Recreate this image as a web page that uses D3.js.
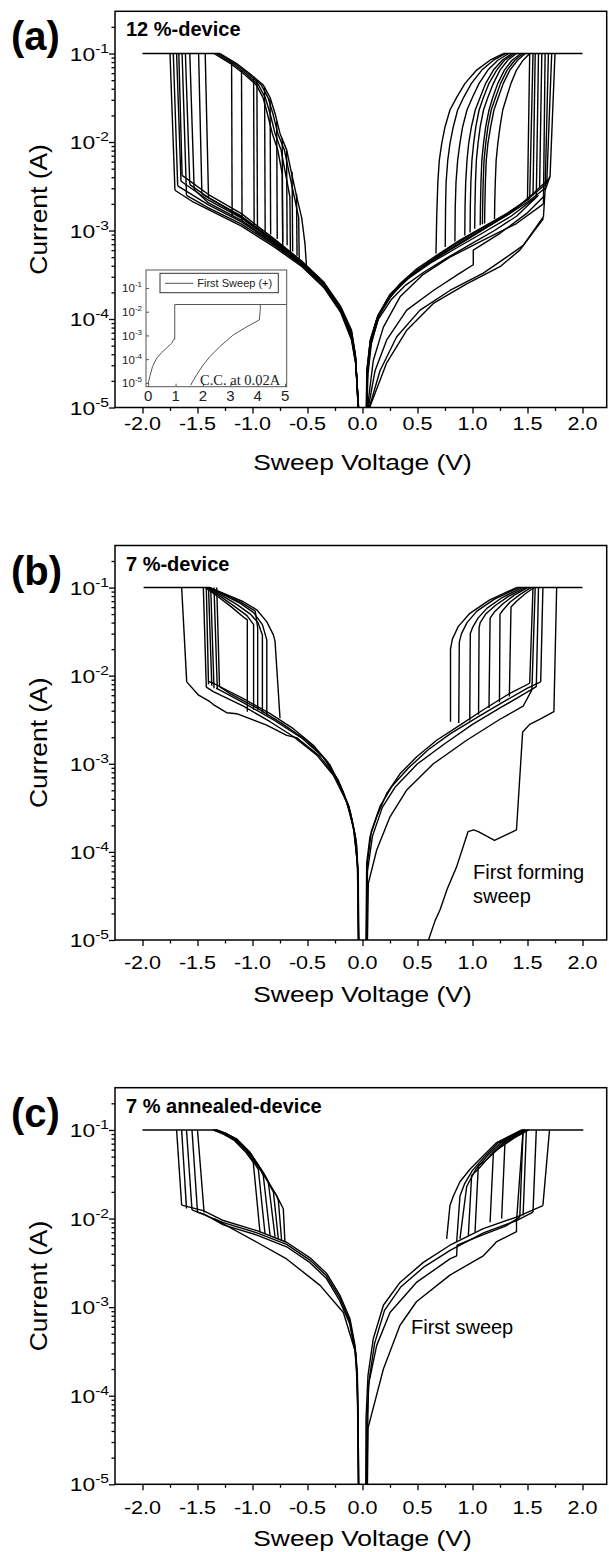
<!DOCTYPE html>
<html><head><meta charset="utf-8">
<script src="https://cdn.jsdelivr.net/npm/d3@7"></script>
<style>body{margin:0;background:#fff}svg{display:block}</style>
</head><body><svg id="c" width="609" height="1552"></svg>
<script>
// ---------------- tick values ----------------
const X_TICKS = [-2.0,-1.5,-1.0,-0.5,0.0,0.5,1.0,1.5,2.0];
const X_MINOR = [-1.75,-1.25,-0.75,-0.25,0.25,0.75,1.25,1.75];
const Y_TICKS = [1e-5,1e-4,1e-3,1e-2,1e-1];
const Y_TICK_EXP = ["-5","-4","-3","-2","-1"];
const INSET_X_TICKS = [0,1,2,3,4,5];
const INSET_Y_TICKS = [1e-5,1e-4,1e-3,1e-2,1e-1];

// ---------------- panel (a): 12 %-device ----------------
const aCompliance = [[[-2.0,0.1],[-1.295,0.1]],[[1.28,0.1],[2.0,0.1]]];
const aNegLower = [
 [[-0.035,1.0e-5],[-0.06,3.0e-5],[-0.1,5.8e-5],[-0.2,1.2e-4],[-0.35,2.25e-4],[-0.55,3.9e-4],[-0.8,6.5e-4],[-1.1,1.12e-3],[-1.4,1.72e-3],[-1.54,2.1e-3],[-1.705,2.85e-3]],
 [[-0.037,1.0e-5],[-0.062,3.3e-5],[-0.1,6.3e-5],[-0.2,1.27e-4],[-0.35,2.4e-4],[-0.55,4.1e-4],[-0.8,7.0e-4],[-1.1,1.25e-3],[-1.4,1.95e-3],[-1.68,3.2e-3]],
 [[-0.038,1.0e-5],[-0.063,3.6e-5],[-0.1,6.8e-5],[-0.2,1.32e-4],[-0.35,2.5e-4],[-0.55,4.3e-4],[-0.8,7.4e-4],[-1.1,1.38e-3],[-1.4,2.2e-3],[-1.65,3.6e-3]],
 [[-0.04,1.0e-5],[-0.065,4.0e-5],[-0.1,7.5e-5],[-0.2,1.4e-4],[-0.35,2.6e-4],[-0.55,4.5e-4],[-0.8,8.0e-4],[-1.1,1.55e-3],[-1.4,2.55e-3],[-1.64,4.2e-3]],
 [[-0.036,1.0e-5],[-0.061,3.2e-5],[-0.1,6.0e-5],[-0.2,1.23e-4],[-0.35,2.3e-4],[-0.55,4.0e-4],[-0.8,6.8e-4],[-1.1,1.18e-3],[-1.4,1.8e-3],[-1.6,2.5e-3]],
 [[-0.039,1.0e-5],[-0.064,3.8e-5],[-0.1,7.1e-5],[-0.2,1.36e-4],[-0.35,2.55e-4],[-0.55,4.4e-4],[-0.8,7.7e-4],[-1.1,1.45e-3],[-1.4,2.35e-3],[-1.57,3.3e-3]],
 [[-0.037,1e-5],[-0.062,3.5e-5],[-0.1,6.6e-5],[-0.2,1.3e-4],[-0.35,2.45e-4],[-0.55,4.2e-4],[-0.8,7.2e-4],[-1.1,1.3e-3],[-1.4,2.05e-3],[-1.53,2.9e-3]],
 [[-0.038,1e-5],[-0.063,3.7e-5],[-0.1,7.0e-5],[-0.2,1.35e-4],[-0.35,2.52e-4],[-0.55,4.35e-4],[-0.8,7.6e-4],[-1.1,1.42e-3],[-1.46,2.6e-3]]
];
const aNegSet = [
 [[-1.705,2.85e-3],[-1.75,0.1]],[[-1.68,3.2e-3],[-1.72,0.1]],[[-1.65,3.6e-3],[-1.69,0.1]],
 [[-1.64,4.2e-3],[-1.67,0.1]],[[-1.60,2.5e-3],[-1.64,0.1]],[[-1.57,3.3e-3],[-1.61,0.1]],
 [[-1.53,2.9e-3],[-1.57,0.1]],[[-1.46,2.6e-3],[-1.49,0.1]],[[-1.40,2.4e-3],[-1.43,0.1]]
];
const aNegUpper = [
 [[-1.295,0.1],[-1.144,0.077],[-1.023,0.059],[-0.902,0.044],[-0.841,0.032],[-0.795,0.021],[-0.75,0.0125],[-0.689,0.0081],[-0.644,0.0044],[-0.598,0.0024],[-0.553,0.0014],[-0.523,7.1e-4],[-0.507,3.6e-4]],
 [[-1.31,0.1],[-1.16,0.077],[-1.04,0.059],[-0.92,0.044],[-0.86,0.032],[-0.815,0.021],[-0.77,0.0125],[-0.71,0.0081],[-0.665,0.0044],[-0.62,0.0024],[-0.58,0.0014],[-0.575,4.3e-4]],
 [[-1.33,0.1],[-1.18,0.077],[-1.06,0.059],[-0.945,0.044],[-0.885,0.032],[-0.84,0.021],[-0.795,0.0125],[-0.74,0.0081],[-0.70,0.0044],[-0.66,0.0024],[-0.655,5.0e-4]],
 [[-1.35,0.1],[-1.20,0.077],[-1.08,0.059],[-0.965,0.044],[-0.905,0.032],[-0.865,0.021],[-0.82,0.0125],[-0.77,0.0081],[-0.73,0.0044],[-0.725,5.5e-4]]
];
const aNegReset = [
 [[-1.19,0.078],[-1.185,1.45e-3]],[[-1.10,0.065],[-1.095,1.3e-3]],[[-0.99,0.055],[-0.985,1.15e-3]],
 [[-0.96,0.05],[-0.955,1.12e-3]],[[-0.89,0.042],[-0.885,9.8e-4]],[[-0.84,0.031],[-0.835,9.0e-4]],
 [[-0.78,0.017],[-0.775,8.0e-4]],[[-0.73,0.011],[-0.725,7.4e-4]],[[-0.69,0.008],[-0.685,6.8e-4]],
 [[-0.64,0.0046],[-0.635,5.8e-4]],[[-0.60,0.0026],[-0.595,5.2e-4]]
];
const aPosLower = [
 [[0.035,1e-5],[0.038,2.2e-5],[0.068,5.3e-5],[0.129,9.7e-5],[0.22,1.63e-4],[0.341,2.5e-4],[0.493,3.7e-4],[0.674,5.25e-4],[0.886,7.8e-4],[1.098,1.1e-3],[1.31,1.55e-3],[1.49,2.2e-3],[1.675,3.4e-3],[1.705,4.1e-3]],
 [[0.05,1e-5],[0.053,1.2e-5],[0.098,3.4e-5],[0.19,8.1e-5],[0.341,1.78e-4],[0.553,3.2e-4],[0.795,5.0e-4],[1.098,7.8e-4],[1.40,1.2e-3],[1.645,2.0e-3]],
 [[0.04,1e-5],[0.05,2.4e-5],[0.08,5.2e-5],[0.15,1.1e-4],[0.27,1.9e-4],[0.42,2.9e-4],[0.62,4.3e-4],[0.85,6.3e-4],[1.1,9.5e-4],[1.35,1.45e-3],[1.58,2.4e-3]],
 [[0.038,1e-5],[0.045,2.6e-5],[0.075,5.6e-5],[0.14,1.1e-4],[0.25,1.9e-4],[0.4,2.9e-4],[0.6,4.4e-4],[0.8,6.5e-4],[1.05,1.0e-3],[1.3,1.5e-3],[1.52,2.3e-3]],
 [[0.036,1e-5],[0.04,2.6e-5],[0.07,5.6e-5],[0.13,1.0e-4],[0.23,1.65e-4],[0.35,2.45e-4],[0.5,3.6e-4],[0.7,5.2e-4],[0.9,7.4e-4],[1.1,1.05e-3],[1.3,1.45e-3],[1.5,2.1e-3],[1.66,3.0e-3]],
 [[0.037,1e-5],[0.042,2.8e-5],[0.072,5.9e-5],[0.135,1.05e-4],[0.24,1.7e-4],[0.36,2.5e-4],[0.52,3.65e-4],[0.72,5.3e-4],[0.95,7.9e-4],[1.15,1.12e-3],[1.35,1.6e-3],[1.55,2.6e-3],[1.69,3.8e-3]],
 [[0.039,1e-5],[0.046,2.7e-5],[0.078,5.4e-5],[0.145,1.0e-4],[0.26,1.65e-4],[0.39,2.4e-4],[0.56,3.4e-4],[0.78,5.0e-4],[1.0,7.2e-4],[1.2,1.0e-3],[1.4,1.45e-3],[1.6,2.5e-3]],
 [[0.053,1e-5],[0.114,2.6e-5],[0.22,5.8e-5],[0.402,1.26e-4],[0.644,2.1e-4],[0.886,3.3e-4],[1.007,4.1e-4],[1.007,6.0e-4],[1.25,9.3e-4],[1.49,1.55e-3],[1.645,2.4e-3]],
 [[0.062,1e-5],[0.159,2.6e-5],[0.311,6.3e-5],[0.523,1.26e-4],[0.795,2.1e-4],[1.098,3.3e-4],[1.31,5.0e-4],[1.462,6.8e-4],[1.645,1.43e-3],[1.66,2.85e-3],[1.705,4.1e-3]],
 [[0.065,1e-5],[0.22,3.2e-5],[0.40,7.4e-5],[0.644,1.5e-4],[0.947,2.5e-4],[1.25,3.9e-4],[1.43,6.0e-4],[1.52,8.5e-4],[1.645,1.36e-3]]
];
const aPosSet = [
 [[1.50,2.3e-3],[1.52,0.1]],[[1.52,2.3e-3],[1.55,0.1]],[[1.55,2.5e-3],[1.57,0.1]],
 [[1.58,2.4e-3],[1.60,0.1]],[[1.61,3.0e-3],[1.63,0.1]],[[1.645,2.0e-3],[1.66,0.1]],
 [[1.66,2.85e-3],[1.69,0.1]],[[1.675,3.4e-3],[1.72,0.1]],[[1.705,4.1e-3],[1.75,0.1]]
];
const aPosUpper = [
 [[1.28,0.1],[1.159,0.084],[1.038,0.065],[0.932,0.046],[0.856,0.032],[0.795,0.023],[0.75,0.0148],[0.72,9.6e-3],[0.698,6.2e-3],[0.685,3.5e-3],[0.675,1.5e-3],[0.668,5.5e-4]],
 [[1.30,0.1],[1.19,0.084],[1.085,0.065],[0.99,0.046],[0.92,0.032],[0.865,0.023],[0.825,0.0148],[0.795,9.6e-3],[0.775,6.2e-3],[0.76,3.5e-3],[0.755,1.8e-3],[0.752,6.5e-4]],
 [[1.33,0.1],[1.23,0.084],[1.14,0.065],[1.06,0.046],[1.0,0.032],[0.95,0.023],[0.91,0.0148],[0.885,9.6e-3],[0.865,6.2e-3],[0.85,3.5e-3],[0.843,1.8e-3],[0.84,7.5e-4]],
 [[1.36,0.1],[1.27,0.084],[1.19,0.065],[1.12,0.046],[1.07,0.032],[1.025,0.023],[0.99,0.0148],[0.965,9.6e-3],[0.95,6.2e-3],[0.938,3.5e-3],[0.932,1.8e-3],[0.93,8.8e-4]],
 [[1.38,0.1],[1.29,0.084],[1.22,0.065],[1.15,0.046],[1.10,0.032],[1.06,0.023],[1.03,0.0148],[1.01,9.6e-3],[0.995,6.2e-3],[0.985,3.5e-3],[0.98,1.8e-3],[0.978,9.5e-4]],
 [[1.40,0.1],[1.32,0.084],[1.25,0.065],[1.19,0.046],[1.14,0.032],[1.10,0.023],[1.07,0.0148],[1.05,9.6e-3],[1.035,6.2e-3],[1.027,3.5e-3],[1.022,1.8e-3],[1.02,1.05e-3]],
 [[1.44,0.1],[1.36,0.084],[1.29,0.065],[1.23,0.046],[1.185,0.032],[1.15,0.023],[1.12,0.0148],[1.10,9.6e-3],[1.085,6.2e-3],[1.077,3.5e-3],[1.072,1.8e-3],[1.07,1.15e-3]],
 [[1.46,0.1],[1.385,0.084],[1.315,0.065],[1.255,0.046],[1.21,0.032],[1.17,0.023],[1.14,0.0148],[1.12,9.6e-3],[1.105,6.2e-3],[1.097,3.5e-3],[1.092,1.8e-3],[1.09,1.18e-3]],
 [[1.48,0.1],[1.41,0.084],[1.34,0.065],[1.28,0.046],[1.235,0.032],[1.195,0.023],[1.165,0.0148],[1.14,9.6e-3],[1.125,6.2e-3],[1.117,3.5e-3],[1.112,1.8e-3],[1.11,1.2e-3]],
 [[1.52,0.1],[1.46,0.084],[1.40,0.065],[1.35,0.046],[1.31,0.032],[1.275,0.023],[1.25,0.0148],[1.23,9.6e-3],[1.215,6.2e-3],[1.207,3.5e-3],[1.202,2.0e-3],[1.20,1.35e-3]]
];
// inset of (a): first sweep (+), C.C. at 0.02 A
const insetSweep1 = [[0,9e-6],[0.06,1.9e-5],[0.16,4.9e-5],[0.31,1.1e-4],[0.49,1.9e-4],[0.67,2.9e-4],[0.86,4.7e-4],[0.94,6.9e-4],[0.97,6.9e-4],[0.97,0.02],[5.1,0.02]];
const insetSweep2 = [[1.55,8e-6],[1.77,2.2e-5],[2.01,5.7e-5],[2.26,1.3e-4],[2.62,3.4e-4],[3.11,1.05e-3],[3.60,2.3e-3],[4.06,4.5e-3],[4.09,1.0e-2],[4.1,0.02]];

// ---------------- panel (b): 7 %-device ----------------
const bCompliance = [[[-1.99,0.1],[-1.386,0.1]],[[1.40,0.1],[2.0,0.1]]];
const bNegLower = [
 [[-0.035,1e-5],[-0.038,5e-5],[-0.053,1.2e-4],[-0.098,2.4e-4],[-0.175,4.8e-4],[-0.295,9.7e-4],[-0.447,1.62e-3],[-0.629,2.5e-3],[-0.84,3.7e-3],[-1.083,5.5e-3],[-1.356,8.2e-3],[-1.40,8.6e-3]],
 [[-0.036,1e-5],[-0.047,7.8e-5],[-0.083,1.87e-4],[-0.144,3.7e-4],[-0.265,7.4e-4],[-0.417,1.26e-3],[-0.629,2.04e-3],[-0.84,3.0e-3],[-1.083,4.5e-3],[-1.356,6.6e-3],[-1.42,7.4e-3]],
 [[-0.036,1e-5],[-0.042,6e-5],[-0.07,1.6e-4],[-0.12,3.2e-4],[-0.22,6.5e-4],[-0.36,1.2e-3],[-0.55,1.95e-3],[-0.8,3.1e-3],[-1.08,4.9e-3],[-1.33,7.2e-3]],
 [[-0.037,1e-5],[-0.044,6.8e-5],[-0.075,1.7e-4],[-0.13,3.4e-4],[-0.24,7.0e-4],[-0.39,1.22e-3],[-0.6,1.98e-3],[-0.689,2.1e-3],[-0.871,2.75e-3],[-1.144,3.7e-3],[-1.235,3.8e-3],[-1.356,4.7e-3],[-1.39,5.1e-3],[-1.49,6.0e-3],[-1.598,8.5e-3]],
 [[-0.035,1e-5],[-0.04,5.5e-5],[-0.06,1.4e-4],[-0.11,2.8e-4],[-0.2,5.6e-4],[-0.33,1.1e-3],[-0.5,1.8e-3],[-0.72,2.8e-3],[-0.96,4.3e-3],[-1.2,6.2e-3],[-1.3,7.5e-3]]
];
const bNegSet = [
 [[-1.598,8.5e-3],[-1.644,0.1]],[[-1.42,7.4e-3],[-1.447,0.1]],[[-1.40,8.0e-3],[-1.42,0.1]],
 [[-1.37,7.7e-3],[-1.40,0.1]],[[-1.35,7.2e-3],[-1.38,0.1]],[[-1.32,7.0e-3],[-1.35,0.1]],[[-1.30,7.5e-3],[-1.325,0.1]]
];
const bNegUpper = [
 [[-1.386,0.1],[-1.235,0.083],[-1.083,0.069],[-0.962,0.056],[-0.871,0.041],[-0.81,0.029],[-0.795,0.0245],[-0.75,3.3e-3]],
 [[-1.40,0.1],[-1.25,0.081],[-1.11,0.066],[-0.99,0.052],[-0.91,0.038],[-0.87,0.0255],[-0.87,3.5e-3]],
 [[-1.41,0.1],[-1.27,0.08],[-1.14,0.064],[-1.02,0.05],[-0.95,0.04],[-0.91,0.029],[-0.91,3.8e-3]],
 [[-1.42,0.1],[-1.29,0.079],[-1.17,0.062],[-1.05,0.048],[-0.99,0.038],[-0.99,4.1e-3]],
 [[-1.43,0.1],[-1.31,0.078],[-1.19,0.06],[-1.08,0.046],[-1.047,0.043],[-1.047,3.9e-3]],
 [[-1.39,0.1],[-1.24,0.082],[-1.095,0.067],[-0.975,0.054],[-0.953,0.035],[-0.953,4.1e-3]]
];
const bPosLower = [
 [[0.032,1e-5],[0.038,7.4e-5],[0.068,1.48e-4],[0.129,2.5e-4],[0.22,4.6e-4],[0.341,7.7e-4],[0.493,1.2e-3],[0.674,1.85e-3],[0.886,2.75e-3],[1.098,4.1e-3],[1.34,6.3e-3],[1.52,8.2e-3]],
 [[0.045,1e-5],[0.053,4.4e-5],[0.129,1.05e-4],[0.25,2.5e-4],[0.40,5.0e-4],[0.644,1.0e-3],[0.947,1.85e-3],[1.25,3.2e-3],[1.46,4.5e-3],[1.54,6.9e-3]],
 [[0.038,1e-5],[0.045,6e-5],[0.09,1.5e-4],[0.18,3.2e-4],[0.3,5.5e-4],[0.5,1.0e-3],[0.75,1.7e-3],[1.0,2.8e-3],[1.25,4.3e-3],[1.45,6.0e-3],[1.58,7.5e-3]],
 [[0.036,1e-5],[0.042,7e-5],[0.08,1.7e-4],[0.16,3.3e-4],[0.27,5.6e-4],[0.42,9e-4],[0.6,1.45e-3],[0.8,2.2e-3],[1.05,3.4e-3],[1.3,5.2e-3],[1.5,7.2e-3],[1.62,8.5e-3]]
];
const bForming = [[0.60,1e-5],[0.66,1.66e-5],[0.705,2.2e-5],[0.77,3.8e-5],[0.856,6.8e-5],[0.96,1.7e-4],[1.01,1.78e-4],[1.053,1.7e-4],[1.20,1.35e-4],[1.40,1.78e-4],[1.456,2.3e-3],[1.52,2.8e-3],[1.61,3.2e-3],[1.74,3.9e-3],[1.765,0.1]];
const bPosSet = [[[1.52,8.2e-3],[1.55,0.1]],[[1.54,6.9e-3],[1.57,0.1]],[[1.58,7.5e-3],[1.60,0.1]],[[1.62,8.5e-3],[1.64,0.1]]];
const bPosUpper = [
 [[1.40,0.1],[1.153,0.072],[0.976,0.051],[0.87,0.036],[0.817,0.026],[0.80,0.02],[0.80,3.0e-3]],
 [[1.42,0.1],[1.20,0.074],[1.04,0.054],[0.95,0.04],[0.90,0.03],[0.88,0.024],[0.875,2.9e-3]],
 [[1.45,0.1],[1.27,0.077],[1.13,0.058],[1.05,0.045],[1.0,0.035],[0.98,0.03],[0.975,3.1e-3]],
 [[1.48,0.1],[1.33,0.08],[1.21,0.063],[1.12,0.05],[1.07,0.04],[1.06,0.035],[1.055,3.6e-3]],
 [[1.50,0.1],[1.38,0.082],[1.28,0.066],[1.20,0.053],[1.16,0.045],[1.15,4.3e-3]],
 [[1.53,0.1],[1.43,0.083],[1.34,0.068],[1.28,0.056],[1.25,0.05],[1.245,5e-3]],
 [[1.56,0.1],[1.48,0.085],[1.40,0.07],[1.35,0.06],[1.335,5.8e-3]]
];

// ---------------- panel (c): 7 % annealed-device ----------------
const cCompliance = [[[-2.0,0.1],[-1.325,0.1]],[[1.447,0.1],[2.007,0.1]]];
const cNegLower = [
 [[-0.035,1e-5],[-0.04,5.5e-5],[-0.047,1.86e-4],[-0.068,3.7e-4],[-0.114,7.4e-4],[-0.205,1.36e-3],[-0.326,2.4e-3],[-0.477,3.6e-3],[-0.69,5.4e-3],[-0.96,7.3e-3],[-1.265,9.5e-3],[-1.447,0.0123],[-1.644,0.0142]],
 [[-0.036,1e-5],[-0.041,5e-5],[-0.049,1.65e-4],[-0.07,3.3e-4],[-0.118,6.6e-4],[-0.21,1.2e-3],[-0.33,2.12e-3],[-0.48,3.2e-3],[-0.69,4.8e-3],[-0.96,6.5e-3],[-1.265,8.5e-3],[-1.44,0.0112],[-1.50,0.0118]],
 [[-0.035,1e-5],[-0.04,5.2e-5],[-0.048,1.75e-4],[-0.069,3.5e-4],[-0.116,7.0e-4],[-0.207,1.28e-3],[-0.328,2.26e-3],[-0.478,3.4e-3],[-0.69,5.1e-3],[-0.96,6.9e-3],[-1.265,9.0e-3],[-1.55,0.0125]],
 [[-0.038,1e-5],[-0.045,8e-5],[-0.06,3.0e-4],[-0.174,8.7e-4],[-0.386,1.76e-3],[-0.69,3.5e-3],[-0.96,5.4e-3],[-1.265,8.7e-3],[-1.35,1.0e-2]]
];
const cNegSet = [
 [[-1.644,0.0142],[-1.69,0.1]],[[-1.60,0.013],[-1.644,0.1]],[[-1.55,0.0125],[-1.60,0.1]],
 [[-1.50,0.0118],[-1.55,0.1]],[[-1.44,0.0117],[-1.50,0.1]]
];
const cNegUpper = [
 [[-1.325,0.1],[-1.23,0.09],[-1.144,0.079],[-1.023,0.056],[-0.902,0.033],[-0.84,0.024],[-0.78,0.018],[-0.72,0.0129],[-0.705,5.4e-3]],
 [[-1.36,0.1],[-1.26,0.089],[-1.17,0.077],[-1.06,0.056],[-0.993,0.043],[-0.932,7.0e-3]],
 [[-1.35,0.1],[-1.25,0.09],[-1.16,0.078],[-1.045,0.056],[-0.947,0.036],[-0.886,6.7e-3]],
 [[-1.34,0.1],[-1.245,0.09],[-1.155,0.078],[-1.035,0.056],[-0.92,0.034],[-0.902,0.0306],[-0.84,6.4e-3]],
 [[-1.335,0.1],[-1.24,0.09],[-1.15,0.079],[-1.03,0.056],[-0.91,0.033],[-0.856,0.0257],[-0.795,6.2e-3]],
 [[-1.33,0.1],[-1.235,0.09],[-1.147,0.079],[-1.027,0.056],[-0.905,0.033],[-0.845,0.024],[-0.81,0.02],[-0.765,5.9e-3]],
 [[-1.328,0.1],[-1.232,0.09],[-1.145,0.079],[-1.025,0.056],[-0.903,0.033],[-0.842,0.024],[-0.78,0.018],[-0.765,0.016],[-0.735,5.6e-3]]
];
const cPosLower = [
 [[0.03,1e-5],[0.032,5.5e-5],[0.05,1.7e-4],[0.098,4.4e-4],[0.19,1.05e-3],[0.341,1.9e-3],[0.553,3.2e-3],[0.795,5.0e-3],[1.098,7.7e-3],[1.40,0.0104],[1.64,0.014]],
 [[0.035,1e-5],[0.04,5e-5],[0.06,1.5e-4],[0.11,3.9e-4],[0.2,9.2e-4],[0.35,1.7e-3],[0.56,2.85e-3],[0.8,4.4e-3],[1.1,6.9e-3],[1.40,9.5e-3],[1.55,0.0118]],
 [[0.04,1e-5],[0.053,1.3e-4],[0.129,3.7e-4],[0.25,8.7e-4],[0.49,1.9e-3],[0.795,3.5e-3],[0.856,3.8e-3],[0.86,5e-3],[1.098,6.6e-3],[1.30,8.2e-3],[1.43,0.0104]],
 [[0.045,1e-5],[0.05,4.3e-5],[0.19,2.0e-4],[0.34,6.2e-4],[0.49,1.15e-3],[0.795,2.3e-3],[1.098,3.8e-3],[1.19,5.0e-3],[1.22,5.5e-3],[1.40,7.1e-3],[1.40,9.2e-3],[1.46,0.1]]
];
const cPosSet = [[[1.43,0.0104],[1.46,0.1]],[[1.46,0.0108],[1.49,0.1]],[[1.55,0.0118],[1.58,0.1]],[[1.64,0.014],[1.70,0.1]]];
const cPosUpper = [
 [[1.447,0.1],[1.34,0.086],[1.22,0.072],[1.098,0.051],[0.977,0.036],[0.886,0.026],[0.826,0.018],[0.795,0.014],[0.765,5.9e-3]],
 [[1.46,0.1],[1.35,0.086],[1.23,0.071],[1.11,0.05],[1.0,0.035],[0.93,0.025],[0.886,0.018],[0.856,5.4e-3]],
 [[1.47,0.1],[1.37,0.087],[1.26,0.072],[1.14,0.052],[1.03,0.036],[0.947,0.023],[0.886,5.9e-3]],
 [[1.48,0.1],[1.38,0.087],[1.28,0.072],[1.17,0.053],[1.06,0.037],[0.992,0.0306],[0.962,6.3e-3]],
 [[1.49,0.1],[1.40,0.088],[1.30,0.073],[1.20,0.056],[1.10,0.043],[1.053,0.04],[1.023,7.0e-3]],
 [[1.50,0.1],[1.42,0.088],[1.33,0.074],[1.25,0.063],[1.19,0.056],[1.16,9.1e-3]],
 [[1.51,0.1],[1.43,0.088],[1.36,0.08],[1.295,0.072],[1.265,0.01]]
];

// ---------------- drawing ----------------
const FONT = "'Liberation Sans', Arial, Helvetica, sans-serif";
const svg = d3.select("#c");
const x = d3.scaleLinear().domain([-2.25, 2.22]).range([115, 606.7]);

const panels = [
 {label:"(a)", device:"12 %-device", top:11.3, bottom:407.5, tickGap:22,
  groups:[aCompliance,aNegLower,aNegSet,aNegUpper,aNegReset,aPosLower,aPosSet,aPosUpper], extra:[]},
 {label:"(b)", device:"7 %-device", top:545.5, bottom:940, tickGap:29,
  groups:[bCompliance,bNegLower,bNegSet,bNegUpper,bPosLower,bPosSet,bPosUpper], extra:[bForming]},
 {label:"(c)", device:"7 % annealed-device", top:1087.7, bottom:1484.3, tickGap:30,
  groups:[cCompliance,cNegLower,cNegSet,cNegUpper,cPosLower,cPosSet,cPosUpper], extra:[]}
];

const yMinor = [];
for (let e = -5; e <= -1; e++) for (let m = 2; m <= 9; m++) { const v = m * Math.pow(10, e); if (v <= 0.3) yMinor.push(v); }

const SX = 1.2; // axis-text horizontal proportion of the reference

panels.forEach((p, i) => {
  const y = d3.scaleLog().domain([1e-5, 0.3]).range([p.bottom, p.top]);
  const g = svg.append("g");
  const cid = "clip" + i;
  svg.append("defs").append("clipPath").attr("id", cid)
    .append("rect").attr("x", x.range()[0]).attr("y", p.top)
    .attr("width", x.range()[1] - x.range()[0]).attr("height", p.bottom - p.top);

  const line = d3.line().x(d => x(d[0])).y(d => y(d[1]));
  const curves = g.append("g").attr("clip-path", `url(#${cid})`)
    .attr("fill", "none").attr("stroke", "#000").attr("stroke-width", 1.4)
    .attr("stroke-linejoin", "round");
  p.groups.forEach(grp => grp.forEach(c => curves.append("path").attr("d", line(c))));
  p.extra.forEach(c => curves.append("path").attr("d", line(c)));

  // axes
  g.append("g").attr("transform", `translate(0,${p.bottom})`)
    .call(d3.axisBottom(x).tickValues(X_TICKS).tickSize(6).tickSizeOuter(0).tickFormat(""));
  g.append("g").attr("transform", `translate(0,${p.bottom})`)
    .call(d3.axisBottom(x).tickValues(X_MINOR).tickSize(3.5).tickSizeOuter(0).tickFormat(""));
  g.append("g").attr("transform", `translate(${x.range()[0]},0)`)
    .call(d3.axisLeft(y).tickValues(Y_TICKS).tickSize(6).tickSizeOuter(0).tickFormat(""));
  g.append("g").attr("transform", `translate(${x.range()[0]},0)`)
    .call(d3.axisLeft(y).tickValues(yMinor).tickSize(3.5).tickSizeOuter(0).tickFormat(""));
  g.selectAll(".domain").remove();
  g.selectAll(".tick line").attr("stroke", "#000").attr("stroke-width", 1.3);

  g.append("rect").attr("x", x.range()[0]).attr("y", p.top)
    .attr("width", x.range()[1] - x.range()[0]).attr("height", p.bottom - p.top)
    .attr("fill", "none").attr("stroke", "#000").attr("stroke-width", 1.5);

  // tick labels
  X_TICKS.forEach(v => {
    g.append("text").attr("transform", `translate(${x(v)},${p.bottom + p.tickGap}) scale(${SX},1)`)
      .attr("text-anchor", "middle").attr("font-family", FONT).attr("font-size", 18).text(v.toFixed(1));
  });
  Y_TICKS.forEach((v, k) => {
    const t = g.append("text").attr("transform", `translate(109,${y(v) + 7}) scale(${SX},1)`)
      .attr("text-anchor", "end").attr("font-family", FONT).attr("font-size", 19);
    t.append("tspan").text("10");
    t.append("tspan").attr("font-size", 13).attr("dy", -8).text(Y_TICK_EXP[k]);
  });

  // titles
  g.append("text").attr("transform", `translate(${x(0)},${p.bottom + 62}) scale(${SX},1)`)
    .attr("text-anchor", "middle").attr("font-family", FONT).attr("font-size", 22).text("Sweep Voltage (V)");
  g.append("text").attr("transform", `translate(47,${(p.top + p.bottom) / 2}) rotate(-90) scale(${SX},1.1)`)
    .attr("text-anchor", "middle").attr("font-family", FONT).attr("font-size", 22).text("Current (A)");
  g.append("text").attr("x", 11).attr("y", p.top + 39).attr("font-family", FONT)
    .attr("font-weight", "bold").attr("font-size", 40).text(p.label);
  g.append("text").attr("x", 126).attr("y", p.top + 25).attr("font-family", FONT)
    .attr("font-weight", "bold").attr("font-size", 20).text(p.device);

  if (i === 1) {
    const t = g.append("text").attr("font-family", FONT).attr("font-size", 20);
    t.append("tspan").attr("x", 473).attr("y", 879).text("First forming");
    t.append("tspan").attr("x", 473).attr("y", 903).text("sweep");
  }
  if (i === 2) {
    g.append("text").attr("x", 411).attr("y", 1334).attr("font-family", FONT)
      .attr("font-size", 20).text("First sweep");
  }

  if (i === 0) {
    // inset
    const ix = d3.scaleLinear().domain([-0.08, 5.06]).range([146, 286.7]);
    const iy = d3.scaleLog().domain([6.9e-6, 0.57]).range([386.7, 270]);
    const ig = svg.append("g");
    ig.append("rect").attr("x", 146).attr("y", 270).attr("width", 140.7).attr("height", 116.7)
      .attr("fill", "#fff").attr("stroke", "none");
    svg.append("defs").append("clipPath").attr("id", "iclip")
      .append("rect").attr("x", 146).attr("y", 270).attr("width", 140.7).attr("height", 116.7);
    const il = d3.line().x(d => ix(d[0])).y(d => iy(d[1]));
    const ic = ig.append("g").attr("clip-path", "url(#iclip)").attr("fill", "none")
      .attr("stroke", "#555").attr("stroke-width", 1);
    ic.append("path").attr("d", il(insetSweep1));
    ic.append("path").attr("d", il(insetSweep2));
    ig.append("g").attr("transform", "translate(0,386.7)")
      .call(d3.axisTop(ix).tickValues(INSET_X_TICKS).tickSize(3).tickSizeOuter(0).tickFormat(""));
    ig.append("g").attr("transform", "translate(146,0)")
      .call(d3.axisRight(iy).tickValues(INSET_Y_TICKS).tickSize(3).tickSizeOuter(0).tickFormat(""));
    ig.selectAll(".domain").remove();
    ig.selectAll(".tick line").attr("stroke", "#555");
    ig.append("rect").attr("x", 146).attr("y", 270).attr("width", 140.7).attr("height", 116.7)
      .attr("fill", "none").attr("stroke", "#555").attr("stroke-width", 1);
    INSET_X_TICKS.forEach(v => ig.append("text").attr("x", ix(v)).attr("y", 401)
      .attr("text-anchor", "middle").attr("font-family", FONT).attr("font-size", 15).attr("fill", "#222").text(v));
    INSET_Y_TICKS.forEach((v, k) => {
      const t = ig.append("text").attr("x", 142).attr("y", iy(v) + 4.5).attr("text-anchor", "end")
        .attr("font-family", FONT).attr("font-size", 11.5).attr("fill", "#222");
      t.append("tspan").text("10");
      t.append("tspan").attr("font-size", 8).attr("dy", -5).text(Y_TICK_EXP[k]);
    });
    // legend
    ig.append("rect").attr("x", 160).attr("y", 273.3).attr("width", 118.3).attr("height", 19.4)
      .attr("fill", "#fff").attr("stroke", "#333").attr("stroke-width", 1);
    ig.append("line").attr("x1", 165).attr("x2", 193.3).attr("y1", 283.3).attr("y2", 283.3)
      .attr("stroke", "#555").attr("stroke-width", 1);
    ig.append("text").attr("x", 197.3).attr("y", 287.3).attr("font-family", FONT)
      .attr("font-size", 11).attr("fill", "#222").text("First Sweep (+)");
    ig.append("text").attr("x", 200).attr("y", 385).attr("font-family", "'Liberation Serif', 'Times New Roman', serif")
      .attr("font-size", 14.5).attr("fill", "#222").text("C.C. at 0.02A");
  }
});
</script></body></html>
